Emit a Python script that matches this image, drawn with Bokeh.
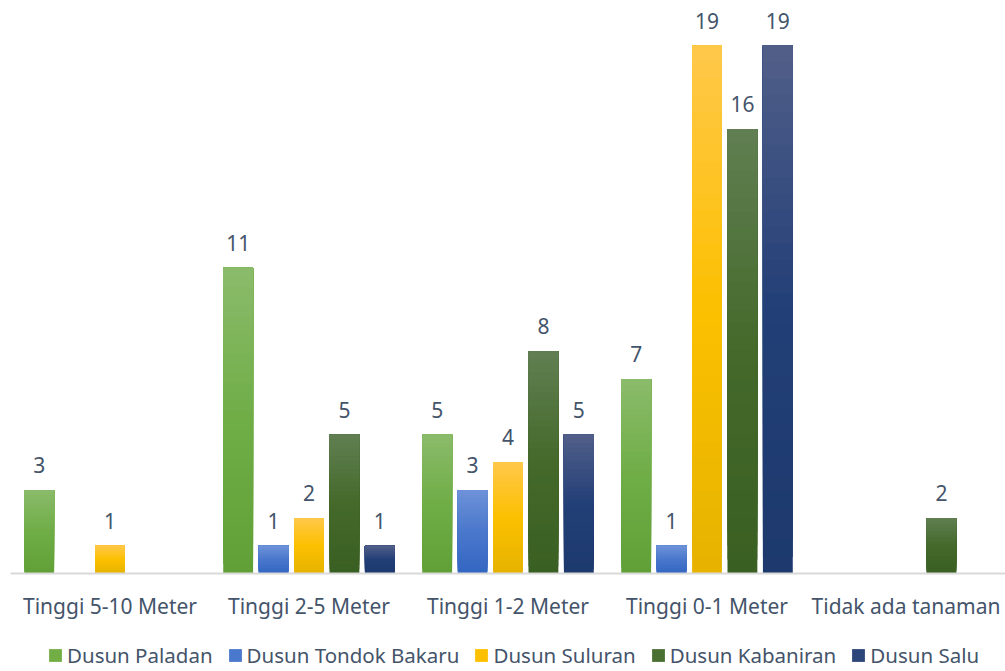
from bokeh.plotting import figure
from bokeh.models import ColumnDataSource, Legend, LegendItem
from bokeh.layouts import column
from bokeh.transform import dodge
from bokeh.core.properties import value
from bokeh.embed import file_html
from bokeh.resources import INLINE

categories = ["Tinggi 5-10 Meter", "Tinggi 2-5 Meter", "Tinggi 1-2 Meter",
              "Tinggi 0-1 Meter", "Tidak ada tanaman"]
series_names = ["Dusun Paladan", "Dusun Tondok Bakaru", "Dusun Suluran",
                "Dusun Kabaniran", "Dusun Salu"]
paladan = [3, 11, 5, 7, 0]
tondok_bakaru = [0, 1, 3, 1, 0]
suluran = [1, 2, 4, 19, 0]
kabaniran = [0, 5, 8, 16, 2]
salu = [0, 1, 5, 19, 0]
# gradient stops per series: (bottom, middle, top)
grad_colors = [
    ("#61a037", "#6fad46", "#8bbb6b"),
    ("#3366c2", "#4a78cc", "#6e92d8"),
    ("#e6b300", "#fcc000", "#ffc84a"),
    ("#3a5f22", "#44692b", "#617f52"),
    ("#1d396d", "#223f77", "#525f89"),
]
legend_colors = ["#72ae45", "#4a78cc", "#fcc000", "#4a6f32", "#2c4679"]

all_values = [paladan, tondok_bakaru, suluran, kabaniran, salu]

FONT = "Noto Sans"
TXT = "#44546a"
FS = "21px"
N = 32


def hex2rgb(h):
    h = h.lstrip("#")
    return [int(h[i:i + 2], 16) for i in (0, 2, 4)]


def grad(stops, t):
    b, m, tp = (hex2rgb(s) for s in stops)
    if t < 0.5:
        a, c, u = b, m, t / 0.5
    else:
        a, c, u = m, tp, (t - 0.5) / 0.5
    return "#%02x%02x%02x" % tuple(int(round(a[k] + (c[k] - a[k]) * u)) for k in range(3))


p = figure(x_range=categories, y_range=(0, 20.62), width=1005, height=640,
           output_backend="svg", toolbar_location=None,
           min_border_left=10, min_border_right=0, min_border_top=0,
           min_border_bottom=67)
p.outline_line_color = None
p.xgrid.grid_line_color = None
p.ygrid.grid_line_color = None
p.yaxis.visible = False
p.x_range.range_padding = 0

for i, (name, vals, stops) in enumerate(zip(series_names, all_values, grad_colors)):
    xs = [c for c, v in zip(categories, vals) if v]
    ys = [v for v in vals if v]
    off = (i - 2) * 0.178
    # gradient-filled bars: overlapping layers from the value down
    gx, gb, gt, gc = [], [], [], []
    for k in range(N):
        col = grad(stops, (k + 0.5) / N)
        for x, v in zip(xs, ys):
            gx.append(x)
            gb.append(v * k / N)
            gt.append(v)
            gc.append(col)
    gsrc = ColumnDataSource(dict(x=gx, bottom=gb, top=gt, color=gc))
    p.vbar(x=dodge("x", off, range=p.x_range), bottom="bottom", top="top",
           width=0.15, source=gsrc, fill_color="color", line_color=None)
    src = ColumnDataSource(dict(x=xs, y=ys, lab=[str(v) for v in ys]))
    p.text(x=dodge("x", off, range=p.x_range), y="y", text="lab", source=src,
           text_align="center", text_baseline="middle", y_offset=-25,
           text_font=value(FONT), text_font_size=FS, text_color=TXT)

ax = p.xaxis[0]
ax.axis_line_color = "#d9d9d9"
ax.axis_line_width = 2
ax.major_tick_line_color = None
ax.minor_tick_line_color = None
ax.major_tick_out = 0
ax.major_tick_in = 0
ax.major_label_standoff = 18
ax.major_label_text_font = FONT
ax.major_label_text_font_size = FS
ax.major_label_text_color = TXT

# legend strip
lf = figure(width=1005, height=31, x_range=(0, 1), y_range=(0, 1),
            output_backend="svg", toolbar_location=None,
            min_border=0)
lf.axis.visible = False
lf.grid.visible = False
lf.outline_line_color = None
items = []
nan = float("nan")
for name, col in zip(series_names, legend_colors):
    r = lf.vbar(x=[nan], top=[nan], width=0.1, fill_color=col, line_color=None)
    items.append(LegendItem(label=name, renderers=[r]))
legend = Legend(items=items, orientation="horizontal", location=(37, 2),
                label_text_font=FONT, label_text_font_size="20.5px",
                label_text_color=TXT, glyph_width=16, glyph_height=16,
                label_standoff=4, spacing=14, padding=0, margin=0,
                border_line_color=None, background_fill_alpha=0)
lf.add_layout(legend, "center")

layout = column(p, lf, spacing=0)
open("out.html", "w").write(file_html(layout, INLINE))
